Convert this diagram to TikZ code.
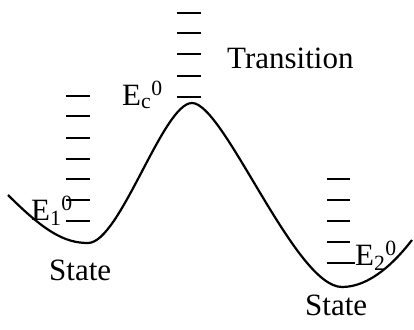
\documentclass[tikz,border=0pt]{standalone}
\usepackage{fontspec}
\setmainfont{Liberation Serif}
\usepackage{tikz}
\usetikzlibrary{positioning}
\tikzset{
  enlevel/.style={line width=1.9pt},
  encurve/.style={line width=2.2pt},
  enlabel/.style={font=\fontsize{31}{35}\selectfont,inner sep=0pt,anchor=base west}
}
\begin{document}
\begin{tikzpicture}[x=1pt,y=-1pt]
  \useasboundingbox (0,0) rectangle (414,329);
  % energy curve
  \draw[encurve] (8,195) .. controls (45,232) and (65,243) .. (88,243)
    .. controls (120,243) and (163,103) .. (192,103)
    .. controls (224,103) and (295,287) .. (342,287)
    .. controls (370,287) and (395,262) .. (412,240);

  % levels
  \foreach \y in {96,116,138,159,179,200,221}
    \draw[enlevel] (66,\y) -- (90,\y);
  \foreach \y in {13,33,54,76,97}
    \draw[enlevel] (177,\y) -- (201,\y);
  \foreach \y in {179,200,221,242}
    \draw[enlevel] (327,\y) -- (350,\y);
  \draw[enlevel] (327,263) -- (355,263);

  \node[enlabel] (trans) at (227,68) {Transition};
  \node[enlabel] (ec) at (122,105) {E\textsubscript{c}\textsuperscript{0}};
  \node[enlabel] (e1) at (31,220) {E\textsubscript{1}\textsuperscript{0}};
  \node[enlabel] (e2) at (355,265) {E\textsubscript{2}\textsuperscript{0}};
  \node[enlabel] (s1) at (49,280) {State};
  \node[enlabel] (s2) at (305,315) {State};
\end{tikzpicture}
\end{document}
